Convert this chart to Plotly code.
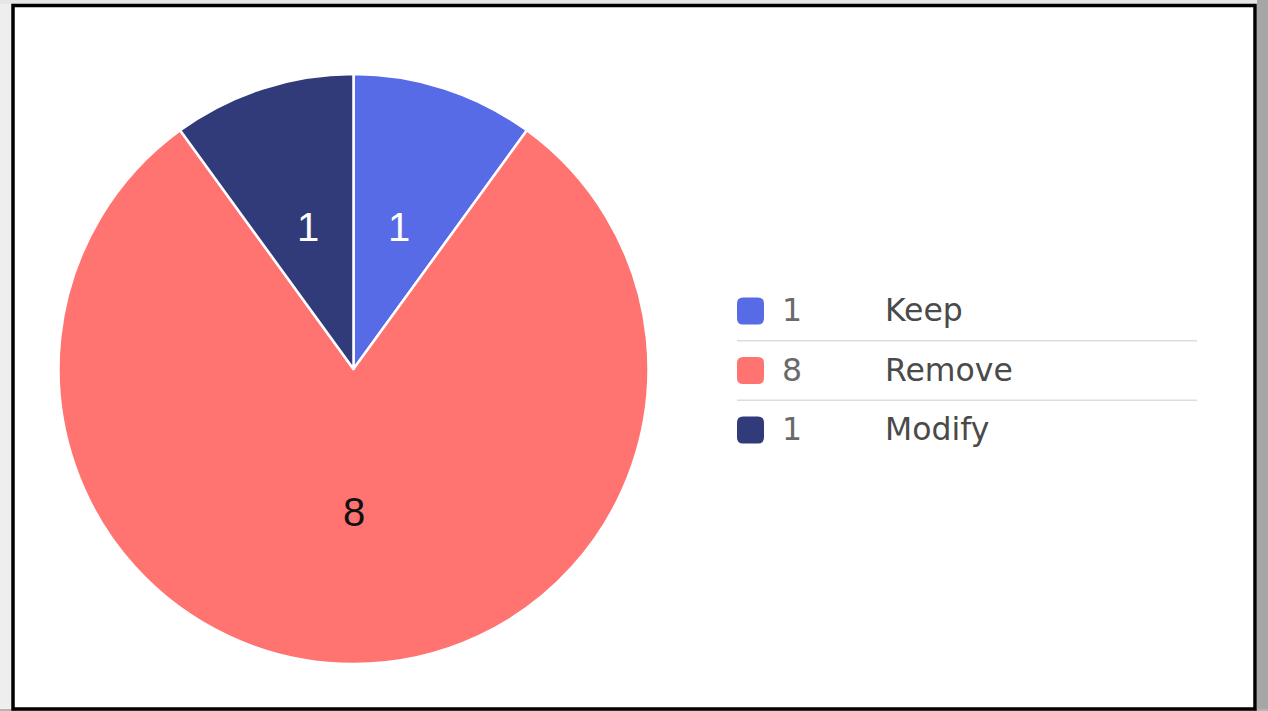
import math
import plotly.graph_objects as go

# Survey outcome counts
labels = ["Keep", "Remove", "Modify"]
values = [1, 8, 1]
colors = ["#586be7", "#ff7370", "#323b7a"]
label_text_colors = ["#ffffff", "#111111", "#ffffff"]

W, H = 1268, 711

# Pie geometry in pixels
cx, cy, r = 353.5, 369, 295

fig = go.Figure()

fig.add_trace(go.Pie(
    labels=labels,
    values=values,
    sort=False,
    direction="clockwise",
    rotation=0,
    marker=dict(colors=colors, line=dict(color="#ffffff", width=2.5)),
    textinfo="none",
    hoverinfo="label+value",
    showlegend=False,
    domain=dict(x=[(cx - r) / W, (cx + r) / W],
                y=[(H - cy - r) / H, (H - cy + r) / H]),
))

annotations = []
shapes = []

# Value labels at half radius along each slice's bisector
total = sum(values)
start = 0.0
for v, tc in zip(values, label_text_colors):
    mid = (start + v / 2) / total * 2 * math.pi
    start += v
    dist = 0.5 * r if v / total < 0.5 else 0.49 * r
    x = cx + dist * math.sin(mid)
    y = cy - dist * math.cos(mid)
    annotations.append(dict(
        x=x, y=y, xref="x", yref="y", text=str(v), showarrow=False,
        font=dict(family="Liberation Sans", size=40, color=tc),
        xanchor="center", yanchor="middle", yshift=2,
    ))

# Side legend: swatch, value, label, with separators between rows
row_y0, row_step = 311, 59.5
sw_x, sw = 750.5, 27
for i, (lab, v, c) in enumerate(zip(labels, values, colors)):
    yy = row_y0 + i * row_step
    x0, x1, y0, y1 = sw_x - sw / 2, sw_x + sw / 2, yy - sw / 2, yy + sw / 2
    k = 6
    path = (f"M {x0 + k},{y0} L {x1 - k},{y0} Q {x1},{y0} {x1},{y0 + k} "
            f"L {x1},{y1 - k} Q {x1},{y1} {x1 - k},{y1} L {x0 + k},{y1} "
            f"Q {x0},{y1} {x0},{y1 - k} L {x0},{y0 + k} Q {x0},{y0} {x0 + k},{y0} Z")
    shapes.append(dict(type="path", path=path, xref="x", yref="y",
                       fillcolor=c, line=dict(width=0), layer="above"))
    annotations.append(dict(x=780, y=yy, xref="x", yref="y", text=str(v),
                            showarrow=False, xanchor="left", yanchor="middle",
                            yshift=1,
                            font=dict(family="DejaVu Sans", size=31.5, color="#6a6a6a")))
    annotations.append(dict(x=883, y=yy, xref="x", yref="y", text=lab,
                            showarrow=False, xanchor="left", yanchor="middle",
                            yshift=1,
                            font=dict(family="DejaVu Sans", size=31.5, color="#4a4a4a")))
    if i < len(labels) - 1:
        sep = yy + row_step / 2
        shapes.append(dict(type="line", x0=737, x1=1197, y0=sep, y1=sep,
                           xref="x", yref="y",
                           line=dict(color="#dddddd", width=1.5)))

# Page surround and card border
shapes += [
    dict(type="rect", x0=0, x1=11, y0=0, y1=H, xref="x", yref="y",
         fillcolor="#eeeeee", line=dict(width=0), layer="below"),
    dict(type="rect", x0=0, x1=W, y0=0, y1=4, xref="x", yref="y",
         fillcolor="#e6e6e6", line=dict(width=0), layer="below"),
    dict(type="rect", x0=1257, x1=W, y0=0, y1=H, xref="x", yref="y",
         fillcolor="#a6a6a6", line=dict(width=0), layer="below"),
    dict(type="rect", x0=0, x1=W, y0=709, y1=H, xref="x", yref="y",
         fillcolor="#b5b5b5", line=dict(width=0), layer="below"),
    dict(type="rect", x0=13, x1=1255, y0=5.5, y1=709, xref="x", yref="y",
         fillcolor="#ffffff", line=dict(color="#000000", width=3.5),
         layer="below"),
]

fig.update_layout(
    width=W, height=H,
    margin=dict(l=0, r=0, t=0, b=0),
    paper_bgcolor="#ffffff",
    plot_bgcolor="rgba(0,0,0,0)",
    xaxis=dict(range=[0, W], visible=False, fixedrange=True, domain=[0, 1]),
    yaxis=dict(range=[H, 0], visible=False, fixedrange=True, domain=[0, 1]),
    shapes=shapes,
    annotations=annotations,
)

fig.write_html("out.html")
